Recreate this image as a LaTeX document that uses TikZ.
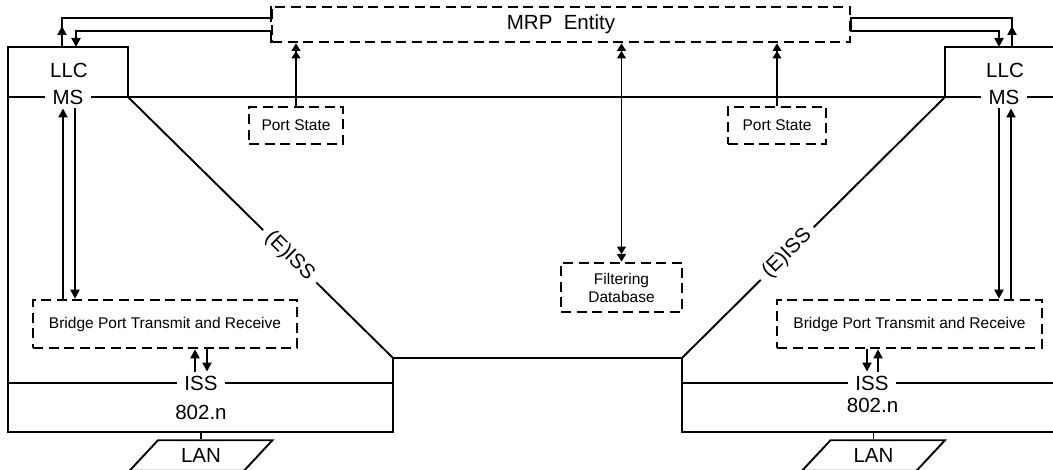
\documentclass[tikz,border=0pt]{standalone}
\usepackage{fontspec}
\setmainfont{Liberation Sans}
\usetikzlibrary{arrows.meta,shapes.geometric}
\newcommand{\bigtext}{\fontsize{20.5pt}{24pt}\selectfont}
\newcommand{\smalltext}{\fontsize{15.5pt}{18pt}\selectfont}
\tikzset{
  layer/.style={line width=1.9pt},
  dbox/.style={draw, line width=2.6pt, dash pattern=on 10pt off 5.5pt, inner sep=0pt, font=\smalltext, align=center},
  big/.style={font=\bigtext, inner sep=0pt},
  cut/.style={big, fill=white, inner xsep=7pt, inner ysep=4pt},
  arr/.style={line width=1.9pt, -{Triangle[length=9pt,width=9pt]}},
  darr/.style={line width=1.9pt, -{Triangle[length=7.5pt,width=8.5pt] Triangle[length=7.5pt,width=8.5pt]}},
  ddarr/.style={line width=1.9pt, {Triangle[length=7.5pt,width=8.5pt] Triangle[length=7.5pt,width=8.5pt]}-{Triangle[length=7.5pt,width=8.5pt] Triangle[length=7.5pt,width=8.5pt]}},
  lan/.style={draw, line width=1.9pt, trapezium, trapezium left angle=47, trapezium right angle=133, minimum width=143pt, minimum height=25pt, inner sep=0pt, font=\bigtext}
}
\begin{document}
\begin{tikzpicture}[x=1pt,y=-1pt]
    \useasboundingbox (0,0) rectangle (1053,470);
    \node[dbox, minimum width=578pt, minimum height=35pt, font=\bigtext] (mrp) at (561,24.5) {MRP\ \ Entity};
    \node[dbox, minimum width=94pt, minimum height=37pt] (psL) at (296,125.5) {Port State};
    \node[dbox, minimum width=98pt, minimum height=37pt] (psR) at (777,125.5) {Port State};
    \node[dbox, minimum width=121pt, minimum height=49pt] (fdb) at (621.5,287.5) {Filtering\\Database};
    \node[dbox, minimum width=264pt, minimum height=48pt] (bptL) at (165,324) {Bridge Port Transmit and Receive};
    \node[dbox, minimum width=265pt, minimum height=48pt] (bptR) at (909.5,324) {Bridge Port Transmit and Receive};
    \node[big] (llcL) at (69,70.5) {LLC};
    \node[big] (llcR) at (1005,70.5) {LLC};
    \node[cut] (msL) at (68,97) {MS};
    \node[cut] (msR) at (1004,97) {MS};
    \node[cut] (issL) at (201,383) {ISS};
    \node[cut] (issR) at (872,383) {ISS};
    \node[big] (netL) at (201,412.5) {802.n};
    \node[big] (netR) at (872.5,405.5) {802.n};
    \node[lan] (lanL) at (201,455.5) {LAN};
    \node[lan] (lanR) at (873.5,455.5) {LAN};
    \coordinate (topL) at (69,47);
    \coordinate (topR) at (1005.5,47);
    \draw[layer] (128,97) -- (128,47) -- (8,47) -- (8,432) -- (393,432) -- (393,358);
    \draw[layer] (945,97) -- (945,47) -- (1053,47);
    \draw[layer] (1053,432) -- (682,432) -- (682,358);
    \draw[layer] (128,97) -- node[cut, sloped, pos=.61] (eissL) {(E)ISS} (393,358) -- (682,358) -- node[cut, sloped, pos=.4] (eissR) {(E)ISS} (945,97);
    \draw[layer] (8,97) -- (msL);
    \draw[layer] (msL) -- (msR);
    \draw[layer] (msR) -- (1053,97);
    \draw[layer] (8,383) -- (issL);
    \draw[layer] (issL) -- (393,383);
    \draw[layer] (682,383) -- (issR);
    \draw[layer] (issR) -- (1053,383);
    \draw[layer] (lanL.north) -- (lanL.north |- 0,432);
    \draw[layer] (lanR.north) -- (lanR.north |- 0,432);
    \draw[arr] ([xshift=-7pt]topL) -- ++(0,-21);
    \draw[layer] ([xshift=-7pt]topL) |- ([yshift=6.5pt]mrp.west);
    \draw[layer] (mrp.north west) -- ([yshift=2.5pt]mrp.west);
    \draw[arr] (mrp.south west) -- ([yshift=-6.5pt]mrp.west) -| ([xshift=7pt]topL);
    \draw[arr] ([xshift=6.5pt]topR) -- ++(0,-21);
    \draw[arr] ([xshift=6.5pt]topR) |- ([yshift=6.5pt]mrp.east) -- ([yshift=-6.5pt]mrp.east) -| ([xshift=-6.5pt]topR);
    \draw[darr] (psL.north) -- (psL.north |- mrp.south);
    \draw[darr] (psR.north) -- (psR.north |- mrp.south);
    \draw[ddarr] (fdb.north |- mrp.south) -- (fdb.north);
    \draw[arr] ([xshift=-5pt]msL.south |- bptL.north) -- ([xshift=-5pt]msL.south);
    \draw[arr] ([xshift=7pt]msL.south) -- ([xshift=7pt]msL.south |- bptL.north);
    \draw[arr] ([xshift=-5pt]msR.south) -- ([xshift=-5pt]msR.south |- bptR.north);
    \draw[arr] ([xshift=7pt]msR.south |- bptR.north) -- ([xshift=7pt]msR.south);
    \draw[arr] ([xshift=-6pt]issL.north) -- ([xshift=-6pt]issL.north |- bptL.south);
    \draw[arr] ([xshift=6pt]issL.north |- bptL.south) -- ([xshift=6pt]issL.north);
    \draw[arr] ([xshift=-5pt]issR.north |- bptR.south) -- ([xshift=-5pt]issR.north);
    \draw[arr] ([xshift=6pt]issR.north) -- ([xshift=6pt]issR.north |- bptR.south);
\end{tikzpicture}
\end{document}
